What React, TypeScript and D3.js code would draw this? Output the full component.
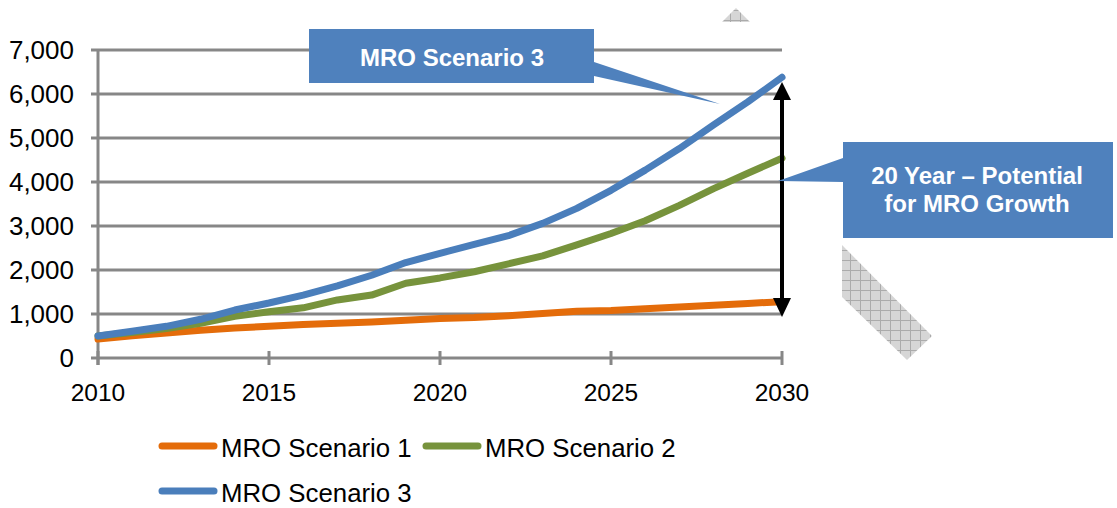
import { useEffect, useRef } from 'react';
import * as d3 from 'd3';

const years = d3.range(2010, 2031);
const scenario1 = [430, 505, 570, 630, 680, 720, 760, 790, 820, 860, 900, 920, 960, 1010, 1060, 1080, 1120, 1160, 1200, 1240, 1280];
const scenario2 = [500, 580, 670, 790, 950, 1050, 1140, 1320, 1430, 1700, 1820, 1960, 2140, 2320, 2570, 2830, 3120, 3470, 3850, 4200, 4540];
const scenario3 = [500, 610, 720, 880, 1090, 1250, 1430, 1640, 1880, 2170, 2380, 2580, 2780, 3060, 3400, 3810, 4270, 4760, 5300, 5820, 6380];
const seriesNames = ['MRO Scenario 1', 'MRO Scenario 2', 'MRO Scenario 3'];
const seriesColors = ['#E46C0A', '#77933C', '#4A7EBB'];
const yTicks = [0, 1000, 2000, 3000, 4000, 5000, 6000, 7000];
const xTicks = [2010, 2015, 2020, 2025, 2030];

const FONT = '"Liberation Sans", Arial, sans-serif';

export default function App() {
  const svgRef = useRef<SVGSVGElement>(null);

  useEffect(() => {
    if (!svgRef.current) return;
    const svg = d3.select(svgRef.current);
    svg.selectAll('*').remove();

    const x = d3.scaleLinear().domain([2010, 2030]).range([98, 782]);
    const y = d3.scaleLinear().domain([0, 7000]).range([358, 50]);

    // hatch pattern for the stray shadow shapes
    const defs = svg.append('defs');
    const pat = defs
      .append('pattern')
      .attr('id', 'hatch')
      .attr('patternUnits', 'userSpaceOnUse')
      .attr('width', 10)
      .attr('height', 10);
    pat.append('rect').attr('width', 10).attr('height', 10).attr('fill', '#d6d6d6');
    pat.append('path').attr('d', 'M0,0.5H10M0.5,0V10').attr('stroke', '#ababab').attr('stroke-width', 1);

    svg.append('polygon').attr('points', '722,22 736,8 750,22').attr('fill', 'url(#hatch)');
    svg.append('polygon').attr('points', '842,245 932,336 907,360 842,297').attr('fill', 'url(#hatch)');

    // gridlines
    svg
      .append('g')
      .selectAll('line')
      .data(yTicks)
      .enter()
      .append('line')
      .attr('x1', 91)
      .attr('x2', x(2030))
      .attr('y1', (d) => y(d))
      .attr('y2', (d) => y(d))
      .attr('stroke', '#878787')
      .attr('stroke-width', 3);

    // y axis
    svg
      .append('line')
      .attr('x1', x(2010))
      .attr('x2', x(2010))
      .attr('y1', y(7000))
      .attr('y2', y(0) + 7)
      .attr('stroke', '#878787')
      .attr('stroke-width', 3);

    // x ticks
    svg
      .append('g')
      .selectAll('line')
      .data(xTicks)
      .enter()
      .append('line')
      .attr('x1', (d) => x(d))
      .attr('x2', (d) => x(d))
      .attr('y1', y(0) - 7)
      .attr('y2', y(0) + 7)
      .attr('stroke', '#878787')
      .attr('stroke-width', 3);

    svg
      .append('g')
      .selectAll('text')
      .data(yTicks)
      .enter()
      .append('text')
      .attr('x', 74)
      .attr('y', (d) => y(d))
      .attr('dy', '0.36em')
      .attr('text-anchor', 'end')
      .style('font-family', FONT)
      .style('font-size', '26px')
      .style('fill', '#000')
      .text((d) => d3.format(',')(d));

    svg
      .append('g')
      .selectAll('text')
      .data(xTicks)
      .enter()
      .append('text')
      .attr('x', (d) => x(d))
      .attr('y', 392)
      .attr('dy', '0.36em')
      .attr('text-anchor', 'middle')
      .style('font-family', FONT)
      .style('font-size', '24.5px')
      .style('fill', '#000')
      .text((d) => d);

    // series lines
    const line = d3
      .line<number>()
      .x((_d, i) => x(years[i]))
      .y((d) => y(d));

    [scenario1, scenario2, scenario3].forEach((vals, i) => {
      svg
        .append('path')
        .datum(vals)
        .attr('d', line)
        .attr('fill', 'none')
        .attr('stroke', seriesColors[i])
        .attr('stroke-width', 7)
        .attr('stroke-linejoin', 'round')
        .attr('stroke-linecap', 'round');
    });

    // double-headed arrow at 2030
    const ax = x(2030);
    svg
      .append('line')
      .attr('x1', ax)
      .attr('x2', ax)
      .attr('y1', 98)
      .attr('y2', 300)
      .attr('stroke', '#000')
      .attr('stroke-width', 4);
    svg.append('polygon').attr('points', `${ax},82 ${ax - 9},100 ${ax + 9},100`).attr('fill', '#000');
    svg.append('polygon').attr('points', `${ax},317 ${ax - 9},298 ${ax + 9},298`).attr('fill', '#000');

    // callouts
    const calloutFill = '#4F81BD';
    svg
      .append('path')
      .attr('d', 'M309,29H594V62L720,104L594,76V83H309Z')
      .attr('fill', calloutFill);
    svg
      .append('text')
      .attr('x', 452)
      .attr('y', 57)
      .attr('dy', '0.36em')
      .attr('text-anchor', 'middle')
      .style('font-family', FONT)
      .style('font-size', '24px')
      .style('font-weight', 'bold')
      .style('fill', '#fff')
      .text('MRO Scenario 3');

    svg
      .append('path')
      .attr('d', 'M843,142H1113V238H843V182L778,181L843,158Z')
      .attr('fill', calloutFill);
    const t2 = svg
      .append('text')
      .attr('text-anchor', 'middle')
      .style('font-family', FONT)
      .style('font-size', '24px')
      .style('font-weight', 'bold')
      .style('fill', '#fff');
    t2.append('tspan').attr('x', 977).attr('y', 184).text('20 Year – Potential');
    t2.append('tspan').attr('x', 977).attr('y', 212).text('for MRO Growth');

    // legend
    const legendItems = [
      { x: 159, y: 446 },
      { x: 423, y: 446 },
      { x: 159, y: 491 },
    ];
    const legend = svg.append('g');
    legendItems.forEach((pos, i) => {
      legend
        .append('line')
        .attr('x1', pos.x + 3)
        .attr('x2', pos.x + 55)
        .attr('y1', pos.y)
        .attr('y2', pos.y)
        .attr('stroke', seriesColors[i])
        .attr('stroke-width', 7)
        .attr('stroke-linecap', 'round');
      legend
        .append('text')
        .attr('x', pos.x + 62)
        .attr('y', pos.y + 2)
        .attr('dy', '0.36em')
        .style('font-family', FONT)
        .style('font-size', '25.8px')
        .style('fill', '#000')
        .text(seriesNames[i]);
    });
  }, []);

  return (
    <svg
      ref={svgRef}
      width={1117}
      height={508}
      style={{ position: 'absolute', left: 0, top: 0, background: '#fff' }}
    />
  );
}
